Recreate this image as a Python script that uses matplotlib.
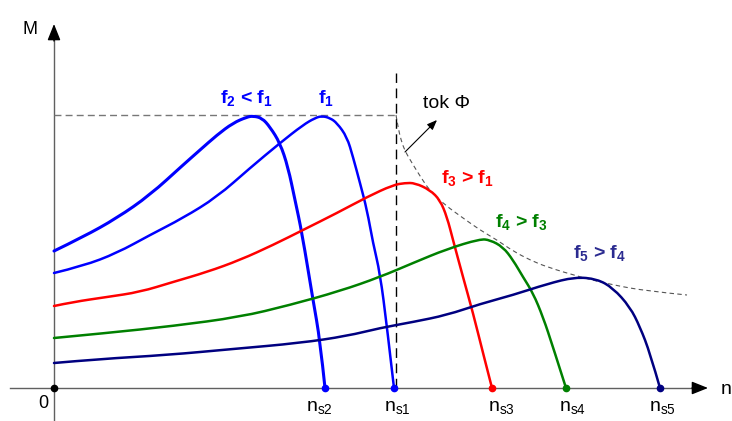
import matplotlib.pyplot as plt
import numpy as np
from matplotlib.path import Path
from matplotlib.patches import PathPatch

# torque-speed curves of an induction motor at different supply frequencies
# n = speed (relative units), M = torque (relative units)
n_f2 = [0, 29, 63, 96, 129, 146, 163, 179, 193, 199, 208, 216, 226, 234, 241, 248, 259, 266, 271]
M_f2 = [137, 151, 170, 193, 223, 238, 253, 265, 271, 272, 270, 261, 245, 221, 188, 155, 88, 48, 0]

n_f1 = [0, 29, 63, 96, 129, 163, 196, 226, 249, 261, 268, 276, 283, 293, 299, 306, 313, 319, 326, 333, 340]
M_f1 = [115, 122, 135, 153, 170, 191, 220, 245, 263, 270, 272, 270, 265, 251, 231, 205, 178, 145, 115, 61, 0]

n_f3 = [0, 19, 53, 86, 119, 153, 186, 219, 249, 283, 313, 339, 351, 361, 376, 386, 393, 399, 409, 419, 429, 438]
M_f3 = [82, 86, 91, 96, 106, 116, 128, 143, 158, 175, 191, 203, 205, 205, 198, 188, 171, 148, 111, 75, 35, 0]

n_f4 = [0, 53, 119, 186, 236, 286, 326, 359, 393, 426, 436, 449, 459, 469, 479, 489, 499, 512]
M_f4 = [50, 55, 62, 71, 83, 97, 111, 125, 139, 149, 148, 141, 128, 111, 95, 71, 41, 0]

n_f5 = [0, 46, 113, 179, 246, 293, 326, 359, 393, 426, 459, 493, 521, 543, 559, 576, 586, 596, 606]
M_f5 = [25, 29, 33, 39, 45, 52, 60, 66, 73, 84, 93, 104, 111, 109, 100, 81, 61, 35, 0]

# breakdown torque envelope above rated speed (field weakening)
n_env = [342, 344, 347, 351, 358, 366, 376, 391, 409, 426, 443, 459, 476, 493, 526, 559, 593, 633]
M_env = [273, 261, 248, 237, 225, 212, 197, 183, 170, 158, 148, 137, 128, 121, 111, 103, 97, 93]

M_max = 273      # max torque (dashed horizontal)
n_s1 = 342       # rated synchronous speed (dashed vertical)

curves = [(n_f2, M_f2, 'blue', 2.2), (n_f1, M_f1, 'blue', 1.8),
          (n_f3, M_f3, 'red', 1.8), (n_f4, M_f4, 'green', 1.8),
          (n_f5, M_f5, 'navy', 1.8)]
ns_labels = [r'$\mathrm{n_{s2}}$', r'$\mathrm{n_{s1}}$', r'$\mathrm{n_{s3}}$',
             r'$\mathrm{n_{s4}}$', r'$\mathrm{n_{s5}}$']
ns_label_shift = [-6, 3, 9, 6, 2]   # label offsets from the end dot

plt.rcParams['font.family'] = 'Liberation Sans'
plt.rcParams['mathtext.fontset'] = 'custom'
plt.rcParams['mathtext.rm'] = 'Liberation Sans'
plt.rcParams['mathtext.it'] = 'Liberation Sans:italic'
plt.rcParams['mathtext.bf'] = 'Liberation Sans:bold'


def smooth_line(ax, n, M, **kw):
    # draw through the read points as a quadratic bezier path (rendering only)
    pts = np.column_stack([n, M]).astype(float)
    verts = [pts[0]]
    codes = [Path.MOVETO]
    for i in range(1, len(pts) - 1):
        end = pts[-1] if i == len(pts) - 2 else (pts[i] + pts[i + 1]) / 2
        verts += [pts[i], end]
        codes += [Path.CURVE3, Path.CURVE3]
    ax.add_patch(PathPatch(Path(verts, codes), fill=False, **kw))


fig = plt.figure(figsize=(7.32, 4.21), dpi=100)
ax = fig.add_axes([0, 0, 1, 1])
ax.set_xlim(-54, 678)
ax.set_ylim(-33, 388)
ax.axis('off')

axcolor = '#606060'
# axes with arrow heads
ax.plot([-44, 641], [0, 0], color=axcolor, lw=1.0, zorder=1)
ax.plot([0, 0], [-33, 350], color=axcolor, lw=1.0, zorder=1)
ax.annotate('', xy=(654, 0), xytext=(638, 0),
            arrowprops=dict(arrowstyle='-|>,head_length=0.55,head_width=0.22',
                            mutation_scale=18, color='black', lw=1, shrinkA=0, shrinkB=0))
ax.annotate('', xy=(0, 364), xytext=(0, 347),
            arrowprops=dict(arrowstyle='-|>,head_length=0.55,head_width=0.22',
                            mutation_scale=18, color='black', lw=1, shrinkA=0, shrinkB=0))

# dashed guide lines
ax.plot([0, n_s1], [M_max, M_max], color='#777777', lw=1.0, dashes=(5, 3), zorder=1)
ax.plot([n_s1, n_s1], [0, 315], color='black', lw=1.0, dashes=(7, 4), zorder=1)
smooth_line(ax, n_env, M_env, edgecolor='#555555', lw=0.8, linestyle=(0, (4, 3)), zorder=1)

# curves and their synchronous speeds
for k in range(len(curves)):
    n, M, c, lw = curves[k]
    smooth_line(ax, n, M, edgecolor=c, lw=lw, zorder=3, capstyle='round', joinstyle='round')
    ax.plot(n[-1], 0, 'o', color=c, ms=4.5, zorder=4)
    ax.text(n[-1] + ns_label_shift[k], -20, ns_labels[k], fontsize=14, ha='center', va='center')
ax.plot(0, 0, 'o', color='black', ms=4.5, zorder=4)

# labels
ax.text(-24, 358, 'M', fontsize=13, ha='center', va='center')
ax.text(-11, -15, '0', fontsize=13, ha='center', va='center')
ax.text(672, -2, 'n', fontsize=14, ha='center', va='center')
ax.text(369, 285, u'tok \u03a6', fontsize=14, ha='left', va='center')
ax.annotate('', xy=(383, 268), xytext=(351, 236),
            arrowprops=dict(arrowstyle='-|>,head_length=0.5,head_width=0.2',
                            mutation_scale=12, color='black', lw=0.8, shrinkA=0, shrinkB=0))

lab = dict(fontsize=14, fontweight='bold', ha='center', va='center')
ax.text(192, 290, r'$\mathbf{f_2}$ < $\mathbf{f_1}$', color='blue', **lab)
ax.text(272, 290, r'$\mathbf{f_1}$', color='blue', **lab)
ax.text(413, 210, r'$\mathbf{f_3}$ > $\mathbf{f_1}$', color='red', **lab)
ax.text(467, 166, r'$\mathbf{f_4}$ > $\mathbf{f_3}$', color='green', **lab)
ax.text(546, 135, r'$\mathbf{f_5}$ > $\mathbf{f_4}$', color='#2b2b90', **lab)

fig.savefig('out.png', dpi=100)
